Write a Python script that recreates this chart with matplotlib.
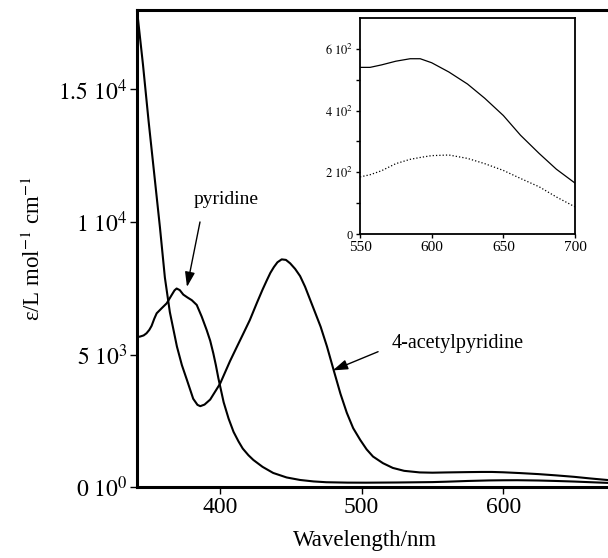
import numpy as np
import matplotlib
matplotlib.use('Agg')
import matplotlib.pyplot as plt

plt.rcParams['font.family'] = 'serif'
plt.rcParams['font.serif'] = ['Liberation Serif', 'DejaVu Serif']
plt.rcParams['mathtext.fontset'] = 'stix'

# 4-acetylpyridine spectrum (main panel)
acetyl_wl = [341.5, 345.5, 349.5, 353.5, 357.5, 361, 364.5, 369.5, 373, 376.5, 381, 384, 386,
             389, 393, 400, 407, 411.5, 416.5, 421, 426, 430, 433, 435.5, 438, 440.5, 443.5,
             446.5, 449.5, 453, 456.5, 460, 463.5, 467, 471, 475.5, 480, 485, 489.5, 494,
             499, 503.5, 508, 515, 522, 530, 541, 550, 560, 575, 585, 592, 600, 612, 625,
             637, 650, 662, 674]
acetyl_eps = [17900, 15950, 13800, 11800, 9800, 7900, 6600, 5300, 4600, 4050, 3330, 3100, 3050,
              3110, 3300, 3900, 4750, 5250, 5800, 6300, 6950, 7450, 7800, 8080, 8300, 8480, 8590,
              8570, 8440, 8230, 7960, 7560, 7080, 6600, 6050, 5300, 4450, 3520, 2800, 2220,
              1775, 1420, 1150, 900, 720, 610, 550, 540, 550, 562, 568, 568, 555, 525, 486,
              440, 384, 320, 262]

# pyridine spectrum (main panel)
pyr_wl = [341.3, 343.2, 346, 348, 350, 351.6, 353.5, 355.2, 358.7, 362.3, 365.8, 367.8,
          369.3, 371.5, 374, 377, 380, 383.5, 387, 390.5, 393, 395.2, 397, 398.8, 402.5,
          406, 409.5, 413, 416, 420, 423.5, 430, 437.5, 447, 456.5, 466, 475, 490, 503,
          525, 550, 560, 575, 590, 600, 610, 625, 637, 650, 662, 674]
pyr_eps = [5670, 5672, 5720, 5800, 5930, 6080, 6350, 6555, 6744, 6933, 7246, 7420,
           7490, 7430, 7260, 7150, 7050, 6870, 6430, 5925, 5520, 5046, 4600, 4100, 3200,
           2580, 2080, 1720, 1450, 1200, 1020, 760, 530, 360, 265, 210, 180, 165, 163,
           170, 185, 200, 228, 248, 254, 256, 245, 228, 206, 180, 155]

# inset (550-700 nm)
inset_wl = [550, 557, 565, 575, 585, 592, 600, 612, 625, 637, 650, 662, 675, 687, 700]
inset_acetyl = [540, 540, 548, 560, 568, 568, 555, 525, 486, 440, 384, 320, 261, 210, 165]
inset_pyr = [185, 192, 205, 228, 242, 248, 254, 256, 245, 228, 206, 180, 153, 120, 88]

main_yticks = [0, 5000, 10000, 15000]
main_ylabels = [r'$0\ 10^{0}$', r'$5\ 10^{3}$', r'$1\ 10^{4}$', r'$1.5\ 10^{4}$']
main_xticks = [400, 500, 600]
inset_yticks = [0, 200, 400, 600]
inset_ylabels = ['0', r'$2\ 10^{2}$', r'$4\ 10^{2}$', r'$6\ 10^{2}$']
inset_xticks = [550, 600, 650, 700]

fig = plt.figure(figsize=(6.08, 5.58), dpi=100)
ax = fig.add_axes([137 / 608, 1 - 487 / 558, 471 / 608, 477 / 558])

ax.plot(acetyl_wl, acetyl_eps, color='k', lw=1.5)
ax.plot(pyr_wl, pyr_eps, color='k', lw=1.5)
ax.set_xlim(341.3, 674)
ax.set_ylim(0, 18000)
ax.set_xticks(main_xticks)
ax.set_yticks(main_yticks)
ax.set_yticklabels(main_ylabels)
ax.tick_params(direction='out', length=5, width=1, labelsize=17, pad=2)
for s in ['left', 'bottom', 'top']:
    ax.spines[s].set_linewidth(2.2)
ax.spines['right'].set_visible(False)

ax.set_xlabel('Wavelength/nm', fontsize=16.5)
ax.xaxis.set_label_coords((365 - 137) / 471, -0.09)
ax.set_ylabel(r'ε/L mol$^{-1}$ cm$^{-1}$', fontsize=16.5)
ax.yaxis.set_label_coords(-0.195, 0.5)

# annotations
ax.text(404.2, 10831, 'pyridine', fontsize=14, ha='center', va='center')
ax.annotate('', xy=(376.6, 7548), xytext=(385.8, 10001),
            arrowprops=dict(arrowstyle='-|>,head_length=0.9,head_width=0.3',
                            color='k', lw=1, shrinkA=0, shrinkB=0))
ax.text(568.1, 5397, '4-acetylpyridine', fontsize=14.5, ha='center', va='center')
ax.annotate('', xy=(479.6, 4400), xytext=(511.6, 5106),
            arrowprops=dict(arrowstyle='-|>,head_length=0.9,head_width=0.3',
                            color='k', lw=1, shrinkA=0, shrinkB=0))

# inset
ins = fig.add_axes([360 / 608, 1 - 234 / 558, 215 / 608, 216 / 558])
ins.plot(inset_wl, inset_acetyl, color='k', lw=0.9)
ins.plot(inset_wl, inset_pyr, color='k', lw=0.9, linestyle=':')
ins.set_xlim(550, 700)
ins.set_ylim(0, 700)
ins.set_xticks(inset_xticks)
ins.set_yticks(inset_yticks)
ins.set_yticklabels(inset_ylabels)
ins.set_yticks([100, 300, 500], minor=True)
ins.tick_params(direction='out', length=3, width=1, pad=2)
ins.tick_params(axis='x', labelsize=11)
ins.tick_params(axis='y', labelsize=9)
ins.tick_params(which='minor', direction='out', length=3, width=1)
for s in ins.spines.values():
    s.set_linewidth(1.3)

fig.savefig('out.png', dpi=100)
